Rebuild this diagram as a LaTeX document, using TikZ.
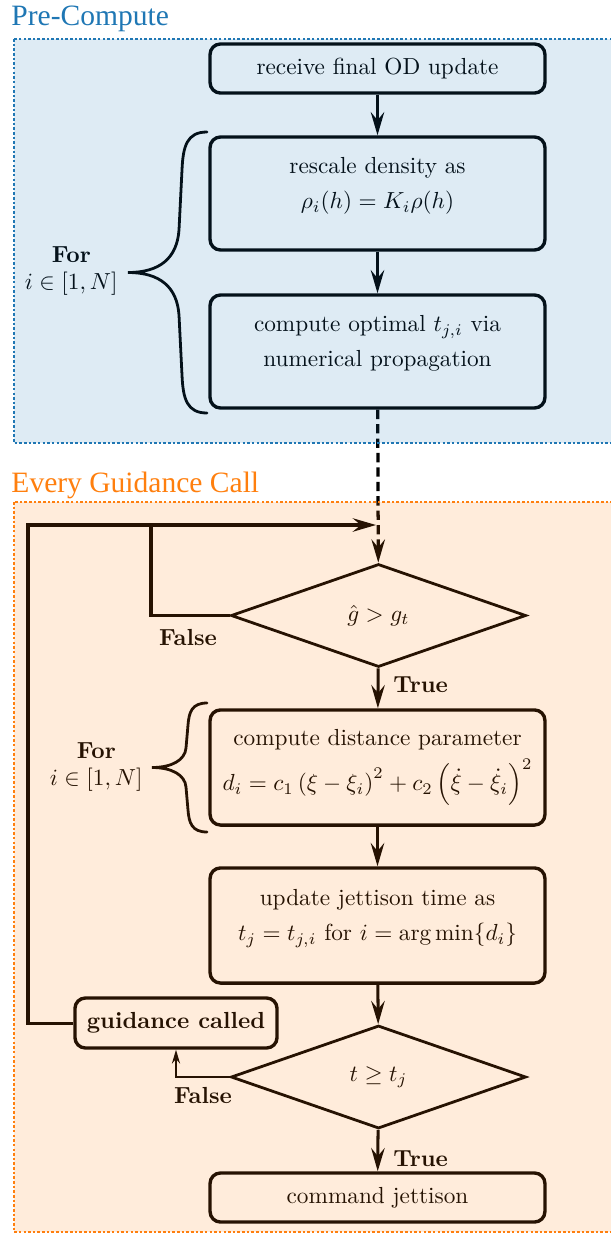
\documentclass[tikz,border=0pt]{standalone}
\usepackage{fontspec}
\usepackage{amsmath}
\usetikzlibrary{shapes.geometric,arrows.meta}
\newfontfamily\titlefont{Liberation Serif}
\definecolor{preblue}{HTML}{1F77B4}
\definecolor{callorange}{HTML}{FF7F0E}
\newcommand{\lowpad}{\rule[-9pt]{0pt}{9pt}}

\begin{document}
\begin{tikzpicture}[x=0.43pt, y=-0.43pt,
    procbox/.style={draw, line width=1.45pt, rounded corners=4.5pt, align=center, minimum width=144pt, inner sep=0pt},
    decide/.style={draw, diamond, line width=1.2pt, aspect=2.86, minimum width=126.9pt, minimum height=44.3pt, inner sep=0pt},
    flow/.style={line width=1.3pt, -{Stealth[length=10pt, width=5.8pt, inset=3.5pt]}},
    thinflow/.style={line width=0.8pt, -{Stealth[length=6pt, width=3.5pt, inset=2pt]}},
    brace/.style={line width=1.2pt, line cap=round},
    lbl/.style={font=\bfseries, inner sep=0pt},
    forlbl/.style={align=center, inner sep=0pt, anchor=east},
    zonetitle/.style={anchor=base west, inner sep=0pt, font=\titlefont\fontsize{12.7}{15}\selectfont},
    zoneedge/.style={line width=1.1pt, dash pattern=on 1.1pt off 0.9pt}
  ]
  \useasboundingbox (0,0) rectangle (611,1235);

  \begin{scope}
    \node[procbox, minimum height=21.1pt] (recv) at (377.5,68.5) {receive final OD update};
    \node[procbox, minimum height=48.6pt] (rescale) at (377.5,193.5) {rescale density as\\[3pt] $\rho_i(h) = K_i\rho(h)$\lowpad};
    \node[procbox, minimum height=48.6pt] (optimal) at (377.5,351.5) {compute optimal $t_{j,i}$ via\\[3pt] numerical propagation\lowpad};

    \draw[flow] (recv) -- (rescale);
    \draw[flow] (rescale) -- (optimal);

    \draw[brace] (207,132) .. controls (187,132) and (183,146) .. (182,170) -- (179,230) .. controls (177,258) and (160,272.5) .. (128,272.5)
      .. controls (160,272.5) and (177,287) .. (179,315) -- (182,375) .. controls (183,399) and (187,413) .. (207,413);
    \node[forlbl] (for1) at (118,271) {\textbf{For}\\ $i \in [1,N]$};
  \end{scope}

  \begin{scope}
    \node[decide] (dia1) at (378.5,615.5) {$\hat{g} > g_t$};
    \node[procbox, minimum height=49.5pt] (dist) at (377.5,767.5) {compute distance parameter\\[3pt] $d_i = c_1\left(\xi - \xi_i\right)^2 + c_2\left(\dot{\xi} - \dot{\xi}_i\right)^2$\rule[-6pt]{0pt}{6pt}};
    \node[procbox, minimum height=49.5pt] (update) at (377.5,925.5) {update jettison time as\\[3pt] $t_j = t_{j,i}$ for $i = \arg\min\{d_i\}$\lowpad};
    \node[decide] (dia2) at (378.5,1077) {$t \geq t_j$};
    \node[procbox, minimum height=21.1pt] (jett) at (377.5,1197.5) {command jettison};
    \node[procbox, minimum width=86.9pt, minimum height=21.5pt, font=\bfseries] (guid) at (176,1023) {guidance called};

    \coordinate (merge) at (376,525);
    \coordinate (mergetop) at (151,525);
    \coordinate (outerleft) at (28,525);

    \draw[flow, line width=1.4pt, dash pattern=on 4pt off 2.2pt] (optimal) -- (dia1);
    \draw[flow] (dia1.west) -| (mergetop) -- (merge);
    \draw[line width=1.3pt] (guid.west) -| (outerleft) -- (mergetop);
    \draw[flow] (dia1) -- (dist);
    \draw[flow] (dist) -- (update);
    \draw[flow] (update) -- (dia2);
    \draw[flow] (dia2) -- (jett);
    \draw[thinflow] (dia2.west) -| (guid.south);

    \node[lbl] (false1) at (188,637) {False};
    \node[lbl, anchor=west] (true1) at (393,685) {True};
    \node[lbl] (false2) at (203,1095) {False};
    \node[lbl, anchor=west] (true2) at (393,1159) {True};

    \draw[brace] (207,703) .. controls (192,703) and (189,712) .. (188,725) -- (186,748) .. controls (185,760) and (172,767.5) .. (152,767.5)
      .. controls (172,767.5) and (185,775) .. (186,787) -- (188,810) .. controls (189,823) and (192,832) .. (207,832);
    \node[forlbl] (for2) at (143,767) {\textbf{For}\\ $i \in [1,N]$};
  \end{scope}

  \fill[preblue, fill opacity=0.15] (14,39) rectangle (630,443);
  \draw[preblue, zoneedge] (14,39) rectangle (630,443);
  \node[zonetitle, text=preblue] (pretitle) at (11,25) {Pre-Compute};

  \fill[callorange, fill opacity=0.15] (14,502) rectangle (630,1232);
  \draw[callorange, zoneedge] (14,502) rectangle (630,1232);
  \node[zonetitle, text=callorange] (calltitle) at (11,492) {Every Guidance Call};
\end{tikzpicture}
\end{document}
